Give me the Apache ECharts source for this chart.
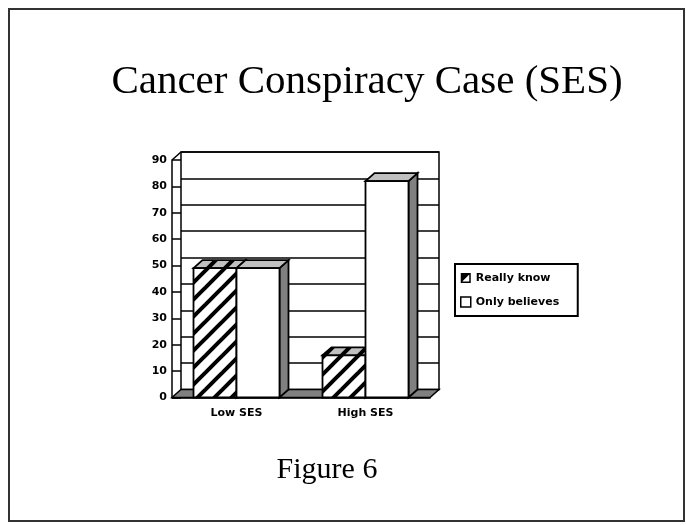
<!DOCTYPE html>
<html>
<head>
<meta charset="utf-8">
<script src="https://cdn.jsdelivr.net/npm/echarts@6/dist/echarts.min.js"></script>
<style>html,body{margin:0;padding:0;background:#fff;}#c{width:686px;height:525px;}</style>
</head>
<body>
<div id="c"></div>
<script>
const categories = ['Low SES', 'High SES'];
const reallyKnow = [49, 16];
const onlyBelieves = [49, 82];
const seriesNames = ['Really know', 'Only believes'];
const yTicks = [0, 10, 20, 30, 40, 50, 60, 70, 80, 90];

const DX = 9, DY = -8;

function makePattern(bg) {
  const c = document.createElement('canvas');
  const P = 17;
  c.width = P; c.height = P;
  const g = c.getContext('2d');
  g.fillStyle = bg; g.fillRect(0, 0, P, P);
  g.strokeStyle = '#000'; g.lineWidth = 4;
  [[0, P, P, 0], [-P / 2, P / 2, P / 2, -P / 2], [P / 2, P * 1.5, P * 1.5, P / 2]].forEach(function (l) {
    g.beginPath(); g.moveTo(l[0], l[1]); g.lineTo(l[2], l[3]); g.stroke();
  });
  return {type: 'pattern', image: c, repeat: 'repeat'};
}
const hatchWhite = makePattern('#ffffff');
const hatchGray = makePattern('#c0c0c0');

function barRenderer(sign, hatched) {
  return function (params, api) {
    const cat = api.value(0), v = api.value(1);
    const top = api.coord([cat, v]);
    const base = api.coord([cat, 0]);
    const bw = api.size([1, 0])[0] / 3;
    const cx = top[0] + sign * bw / 2;
    const x0 = cx - bw / 2, x1 = cx + bw / 2;
    const yt = top[1], yb = base[1];
    const stroke = {stroke: '#000', lineWidth: 1.8};
    return {
      type: 'group',
      children: [
        {type: 'polygon', shape: {points: [[x1, yt], [x1 + DX, yt + DY], [x1 + DX, yb + DY], [x1, yb]]},
          style: Object.assign({fill: '#808080'}, stroke)},
        {type: 'polygon', shape: {points: [[x0, yt], [x0 + DX, yt + DY], [x1 + DX, yt + DY], [x1, yt]]},
          style: Object.assign({fill: hatched ? hatchGray : '#c0c0c0'}, stroke)},
        {type: 'rect', shape: {x: x0, y: yt, width: x1 - x0, height: yb - yt},
          style: Object.assign({fill: hatched ? hatchWhite : '#ffffff'}, stroke)}
      ]
    };
  };
}

function floorRenderer(params, api) {
  const cs = params.coordSys;
  const x = cs.x, y = cs.y, w = cs.width, h = cs.height;
  const b = y + h;
  return {
    type: 'group',
    children: [
      {type: 'polygon', shape: {points: [[x, b], [x + w, b], [x + w + DX, b + DY], [x + DX, b + DY]]},
        style: {fill: '#808080', stroke: '#000', lineWidth: 1.5}},
      {type: 'line', shape: {x1: x, y1: y, x2: x + DX, y2: y + DY},
        style: {stroke: '#000', lineWidth: 1.5}}
    ]
  };
}

const chart = echarts.init(document.getElementById('c'));
const labelFont = {fontFamily: 'DejaVu Sans', fontSize: 11, fontWeight: 'bold', color: '#000'};

chart.setOption({
  backgroundColor: '#fff',
  animation: false,
  title: [
    {text: 'Cancer Conspiracy Case (SES)', left: 362, top: 57, textAlign: 'center',
      textStyle: {fontFamily: 'Liberation Serif', fontSize: 41, fontWeight: 'normal', color: '#000'}},
    {text: 'Figure 6', left: 322, top: 450, textAlign: 'center',
      textStyle: {fontFamily: 'Liberation Serif', fontSize: 30, fontWeight: 'normal', color: '#000'}}
  ],
  graphic: [
    {type: 'rect', shape: {x: 9, y: 9, width: 675, height: 512}, style: {fill: null, stroke: '#333', lineWidth: 2}, z: -10}
  ],
  legend: {
    left: 455, top: 264, orient: 'vertical',
    padding: [8, 10, 8, 5],
    itemWidth: 10, itemHeight: 10, itemGap: 12,
    borderColor: '#000', borderWidth: 2,
    selectedMode: false,
    textStyle: Object.assign({}, labelFont, {fontSize: 11, width: 92, lineHeight: 12}),
    data: [
      {name: seriesNames[0], icon: 'path://M0,0H10V10H0Z M1.5,1.5V8.5H8.5V1.5Z M1.5,8.5L8.5,1.5L1.5,1.5Z',
        itemStyle: {color: '#000', borderWidth: 0}},
      {name: seriesNames[1], icon: 'rect', itemStyle: {color: '#fff', borderColor: '#000', borderWidth: 1.5}}
    ]
  },
  grid: [
    {left: 172, top: 160, width: 258, height: 237.5, show: false},
    {left: 181, top: 152, width: 258, height: 237.5, show: true, borderColor: '#000', borderWidth: 1.5, backgroundColor: '#fff'}
  ],
  xAxis: [
    {type: 'category', gridIndex: 0, data: categories,
      axisLine: {show: true, lineStyle: {color: '#000', width: 1.5}},
      axisTick: {show: false},
      axisLabel: Object.assign({margin: 10}, labelFont)},
    {type: 'category', gridIndex: 1, data: categories, show: false}
  ],
  yAxis: [
    {type: 'value', gridIndex: 0, min: 0, max: 90, interval: 10,
      axisLine: {show: true, lineStyle: {color: '#000', width: 1.5}},
      axisTick: {show: true, inside: true, length: 9, lineStyle: {color: '#000', width: 1.5}},
      splitLine: {show: false},
      axisLabel: Object.assign({margin: 5, formatter: function (v) { return yTicks.indexOf(v) >= 0 ? String(v) : ''; }}, labelFont)},
    {type: 'value', gridIndex: 1, min: 0, max: 90, interval: 10,
      axisLine: {show: false}, axisTick: {show: false}, axisLabel: {show: false},
      splitLine: {show: true, lineStyle: {color: '#000', width: 1.5}}}
  ],
  series: [
    {type: 'custom', name: 'floor', xAxisIndex: 0, yAxisIndex: 0, z: 1, silent: true,
      renderItem: floorRenderer, data: [[0, 0]]},
    {type: 'custom', name: seriesNames[0], xAxisIndex: 0, yAxisIndex: 0, z: 2,
      itemStyle: {color: '#000'},
      renderItem: barRenderer(-1, true),
      data: reallyKnow.map(function (v, i) { return [i, v]; })},
    {type: 'custom', name: seriesNames[1], xAxisIndex: 0, yAxisIndex: 0, z: 3,
      itemStyle: {color: '#fff'},
      renderItem: barRenderer(1, false),
      data: onlyBelieves.map(function (v, i) { return [i, v]; })}
  ]
});
</script>
</body>
</html>
